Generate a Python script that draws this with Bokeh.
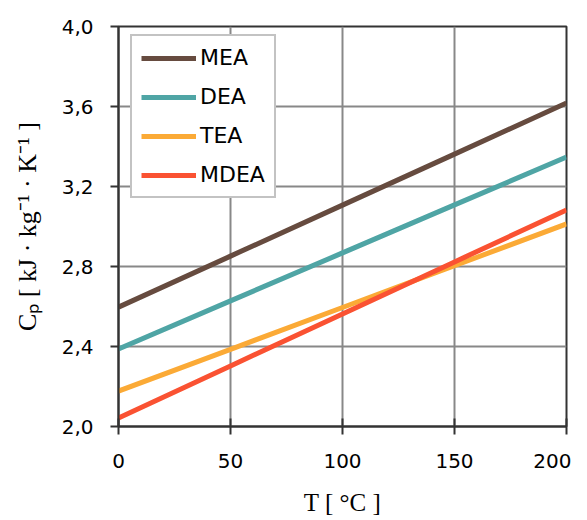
from bokeh.plotting import figure
from bokeh.models import FixedTicker, Legend, LegendItem
from bokeh.embed import file_html
from bokeh.resources import INLINE

# Data
T = [0, 50, 100, 150, 200]
MEA = [2.597, 2.852, 3.107, 3.362, 3.617]
DEA = [2.388, 2.628, 2.868, 3.108, 3.347]
TEA = [2.177, 2.386, 2.595, 2.804, 3.013]
MDEA = [2.043, 2.303, 2.563, 2.823, 3.083]
series_names = ["MEA", "DEA", "TEA", "MDEA"]
series_colors = ["#664B3F", "#4FA5A5", "#FBAA36", "#FA5232"]
x_ticks = [0, 50, 100, 150, 200]
y_ticks = [2.0, 2.4, 2.8, 3.2, 3.6, 4.0]
y_tick_labels = ["2,0", "2,4", "2,8", "3,2", "3,6", "4,0"]
x_label = "T [ °C ]"
y_label = "Cₚ [ kJ · kg⁻¹ · K⁻¹ ]"

p = figure(
    frame_width=448, frame_height=400,
    x_range=(0, 200), y_range=(2.0, 4.0),
    output_backend="svg", toolbar_location=None,
    min_border_left=118, min_border_right=5,
    min_border_top=26, min_border_bottom=78,
)
p.background_fill_color = "white"
p.border_fill_color = "white"
p.outline_line_color = "#333333"
p.outline_line_width = 2

for ax in (p.xaxis[0], p.yaxis[0]):
    ax.axis_line_color = "#333333"
    ax.axis_line_width = 2
    ax.major_tick_line_color = "#333333"
    ax.major_tick_line_width = 2
    ax.minor_tick_line_color = None
    ax.major_label_text_font = "DejaVu Sans"
    ax.major_label_text_font_size = "20px"
    ax.major_label_text_color = "black"
    ax.axis_label_text_font = "Liberation Serif"
    ax.axis_label_text_font_style = "normal"
    ax.axis_label_text_font_size = "25px"
    ax.axis_label_text_color = "black"

p.yaxis.axis_label_text_font_size = "26px"

p.xaxis.ticker = FixedTicker(ticks=x_ticks)
p.yaxis.ticker = FixedTicker(ticks=y_ticks)
p.yaxis.major_label_overrides = {v: s for v, s in zip(y_ticks, y_tick_labels)}
p.xaxis.major_tick_in = 8
p.xaxis.major_tick_out = 8
p.yaxis.major_tick_in = 0
p.yaxis.major_tick_out = 8
p.xaxis.major_label_standoff = 19
p.yaxis.major_label_standoff = 17
p.xaxis.axis_label = x_label
p.yaxis.axis_label = y_label
p.xaxis.axis_label_standoff = 18
p.yaxis.axis_label_standoff = 17

p.grid.grid_line_color = "#888888"
p.grid.grid_line_width = 2
p.grid.grid_line_alpha = 1.0

items = []
for name, ys, col in zip(series_names, [MEA, DEA, TEA, MDEA], series_colors):
    r = p.line(T, ys, line_color=col, line_width=5)
    items.append(LegendItem(label=name, renderers=[r]))

legend = Legend(items=items, location=(12, 228))
legend.border_line_color = "#888888"
legend.border_line_width = 2
legend.background_fill_color = "white"
legend.background_fill_alpha = 1.0
legend.label_text_font = "DejaVu Sans"
legend.label_text_font_size = "22px"
legend.label_text_color = "black"
legend.glyph_width = 55
legend.glyph_height = 20
legend.label_height = 20
legend.label_standoff = 4
legend.spacing = 14
legend.padding = 9
p.add_layout(legend, "center")

open("out.html", "w").write(file_html(p, INLINE))
